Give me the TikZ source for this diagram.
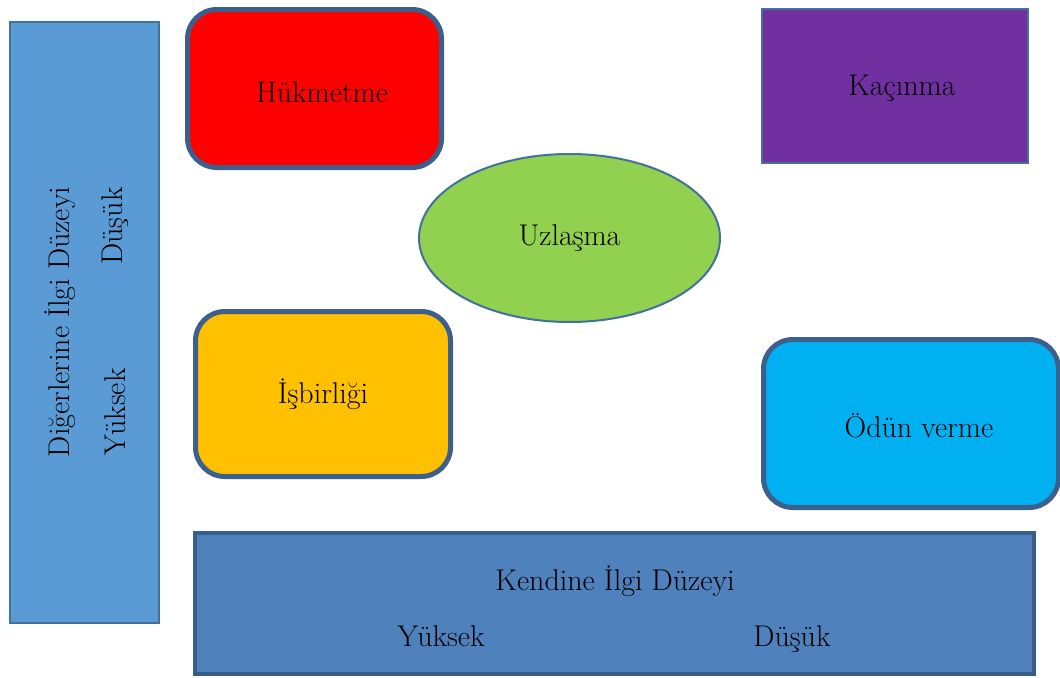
\documentclass[tikz,border=0pt]{standalone}
\usepackage{fontspec}
\usetikzlibrary{shapes.geometric}
\definecolor{edgeblue}{RGB}{61,95,140}
\definecolor{thinblue}{RGB}{65,113,156}
\definecolor{sideblue}{RGB}{91,155,213}
\definecolor{baseblue}{RGB}{79,129,189}
\definecolor{baseedge}{RGB}{56,93,138}
\tikzstyle{roundblock} = [draw=edgeblue, line width=3.75pt, rounded corners=22pt, inner sep=0pt]
\tikzstyle{flatblock} = [draw=thinblue, line width=1.5pt, inner sep=0pt]
\tikzstyle{lbl} = [inner sep=0pt]

\begin{document}
\begin{tikzpicture}[x=0.75pt, y=-0.75pt, font=\fontsize{22.5}{26}\selectfont]
      \useasboundingbox (0, 0) rectangle (1060, 678);
      % left axis
      \node[flatblock, fill=sideblue, minimum width=111.75pt, minimum height=450.75pt] (others) at (84.5, 322.5) {};
      \node[lbl, rotate=90] (otherstitle) at (60, 322) {Diğerlerine İlgi Düzeyi};
      \node[lbl, rotate=90] (otherslow) at (115, 226) {Düşük};
      \node[lbl, rotate=90] (othershigh) at (115, 412) {Yüksek};
      % styles
      \node[roundblock, fill=red, minimum width=190.5pt, minimum height=118.5pt] (dominate) at (314.5, 88.5) {};
      \node[lbl] (dominatetxt) at (322, 92) {Hükmetme};
      \node[flatblock, fill={rgb,255:red,112;green,48;blue,160}, minimum width=199.5pt, minimum height=115.5pt] (avoid) at (895, 86) {};
      \node[lbl] (avoidtxt) at (902, 88) {Kaçınma};
      \node[ellipse, flatblock, fill={rgb,255:red,146;green,208;blue,80}, minimum width=225.75pt, minimum height=126pt] (compromise) at (569.5, 238) {Uzlaşma};
      \node[roundblock, fill={rgb,255:red,255;green,192;blue,0}, minimum width=191.25pt, minimum height=123.75pt] (collaborate) at (323, 394) {İşbirliği};
      \node[roundblock, fill={rgb,255:red,0;green,176;blue,240}, minimum width=221.25pt, minimum height=126pt] (accommodate) at (911, 423.5) {};
      \node[lbl] (accommodatetxt) at (919, 426) {Ödün verme};
      % bottom axis
      \node[draw=baseedge, line width=3pt, fill=baseblue, inner sep=0pt, minimum width=629.25pt, minimum height=105.75pt] (self) at (614.5, 603.5) {};
      \node[lbl, anchor=base] (selftitle) at (615, 590) {Kendine İlgi Düzeyi};
      \node[lbl, anchor=base] (selfhigh) at (441, 646) {Yüksek};
      \node[lbl, anchor=base] (selflow) at (792, 646) {Düşük};
    \end{tikzpicture}
\end{document}
